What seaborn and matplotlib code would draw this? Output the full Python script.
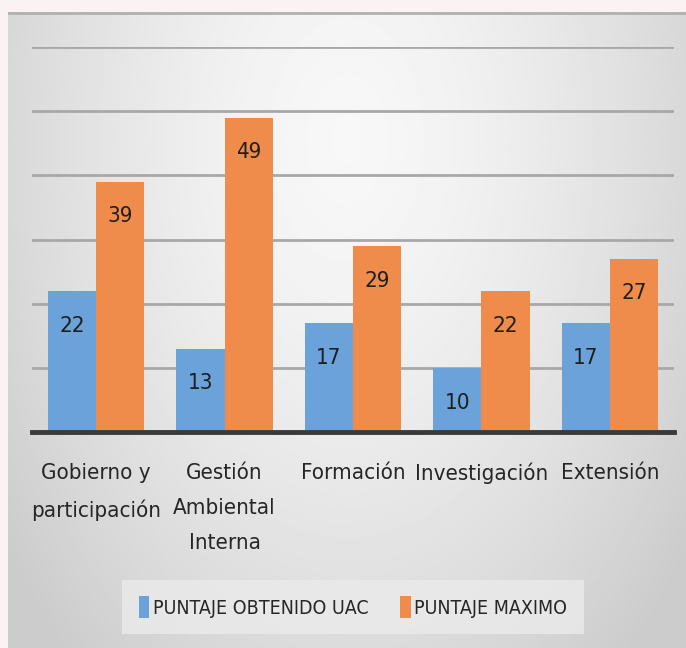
import numpy as np
import pandas as pd
import matplotlib
matplotlib.use('Agg')
import matplotlib.pyplot as plt
import seaborn as sns
from matplotlib.patches import Patch

# Datos del gráfico
categorias = ['Gobierno y\nparticipación', 'Gestión\nAmbiental\nInterna', 'Formación',
              'Investigación', 'Extensión']
puntaje_uac = [22, 13, 17, 10, 17]
puntaje_max = [39, 49, 29, 22, 27]
series = ['PUNTAJE OBTENIDO UAC', 'PUNTAJE MAXIMO']
colores = ['#6aa2d9', '#ef8b4b']

df = pd.DataFrame({
    'Categoria': categorias * 2,
    'Puntaje': puntaje_uac + puntaje_max,
    'Serie': [series[0]] * 5 + [series[1]] * 5,
})

sns.set_style('white')
plt.rcParams['font.family'] = ['DejaVu Sans']
plt.rcParams['font.stretch'] = 'condensed'

fig = plt.figure(figsize=(6.86, 6.48), dpi=100)
fig.patch.set_facecolor('#fbf3f3')

# Fondo del panel con degradado radial
bg = fig.add_axes([8 / 686, 0, 1 - 8 / 686, 1 - 12 / 648])
yy, xx = np.mgrid[0:1:300j, 0:1:300j]
r = np.sqrt(((xx - 0.5) / 0.7) ** 2 + ((yy - 0.2) / 1.2) ** 2)
grad = np.clip(0.97 - 0.2 * r ** 1.5, 0.8, 1)
bg.imshow(grad, cmap='gray', vmin=0, vmax=1, aspect='auto', extent=[0, 1, 1, 0])
bg.axhline(0.001, color='#b0b0b0', lw=2)
bg.set_axis_off()

ax = fig.add_axes([32 / 686, 1 - 432 / 648, 642 / 686, (432 - 47) / 648])
ax.patch.set_alpha(0)
sns.barplot(data=df, x='Categoria', y='Puntaje', hue='Serie', palette=colores,
            width=0.75, saturation=1, gap=0, legend=False, ax=ax, zorder=3,
            edgecolor='none', linewidth=0)

ax.set_ylim(0, 60)
ax.set_yticks(range(0, 61, 10))
ax.set_yticklabels([])
ax.yaxis.grid(True, color='#a8a8a8', lw=2, zorder=0)
ax.set_axisbelow(True)
ax.tick_params(axis='both', length=0)
ax.tick_params(axis='x', pad=22, labelsize=16)
for lbl in ax.get_xticklabels():
    lbl.set_linespacing(1.95)
    lbl.set_color('#262626')
    lbl.set_fontstretch('condensed')
ax.set_xlabel('')
ax.set_ylabel('')
for s in ['top', 'left', 'right']:
    ax.spines[s].set_visible(False)
ax.spines['bottom'].set_color('#3a3a3a')
ax.spines['bottom'].set_linewidth(3.5)
ax.spines['bottom'].set_zorder(5)

# Etiquetas de valor dentro de las barras
for cont, vals in zip(ax.containers, [puntaje_uac, puntaje_max]):
    for bar, v in zip(cont, vals):
        ax.annotate(str(v), (bar.get_x() + bar.get_width() / 2, bar.get_height()),
                    xytext=(0, -25), textcoords='offset points', fontstretch='condensed',
                    ha='center', va='center', fontsize=16, color='#1e1e1e', zorder=6)

handles = [Patch(facecolor=c, edgecolor='none') for c in colores]
leg = fig.legend(handles, series, loc='center', bbox_to_anchor=(353 / 686, 1 - 607 / 648),
                 ncol=2, fontsize=14, frameon=True, fancybox=False,
                 handlelength=0.55, handleheight=1.3, handletextpad=0.2,
                 columnspacing=1.6, borderpad=0.85)
leg.get_frame().set_facecolor('#ebebeb')
leg.get_frame().set_edgecolor('none')
for t in leg.get_texts():
    t.set_color('#262626')
    t.set_fontstretch('condensed')

fig.savefig('out.png', dpi=100, facecolor=fig.get_facecolor())
